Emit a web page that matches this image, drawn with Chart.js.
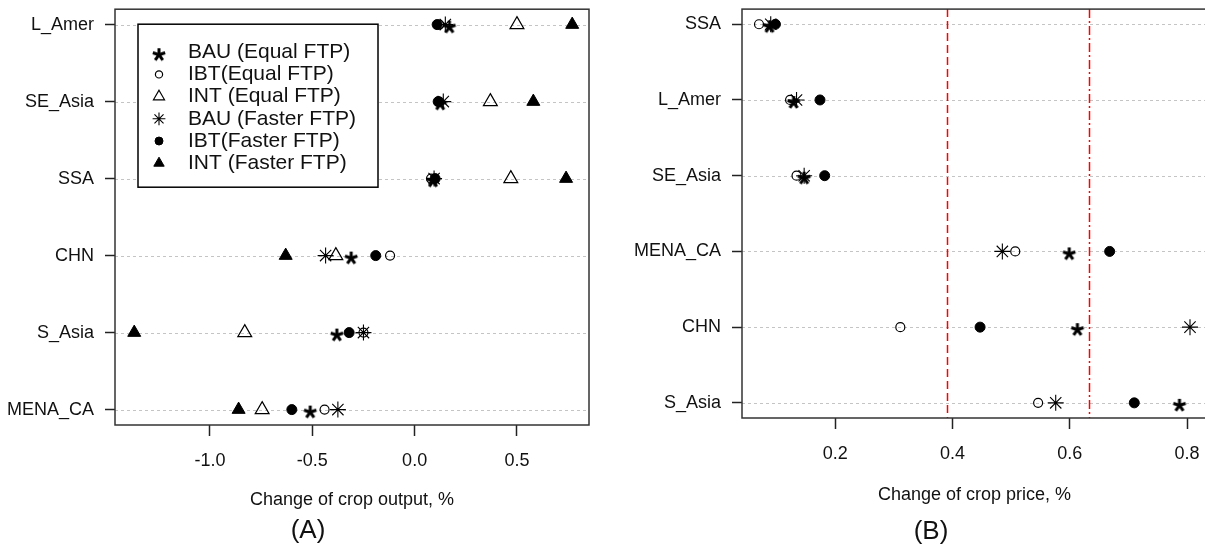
<!DOCTYPE html>
<html>
<head>
<meta charset="utf-8">
<title>Change of crop output and price</title>
<script src="https://cdn.jsdelivr.net/npm/chart.js@4.4.1/dist/chart.umd.min.js"></script>
<style>
  html, body { margin: 0; padding: 0; background: #fff; overflow: hidden; }
  body { width: 1205px; height: 550px; position: relative; font-family: "Liberation Sans", Arial, sans-serif; }
  .panel { position: absolute; top: 0; height: 550px; }
  #panelA { left: 0; width: 600px; }
  #panelB { left: 600px; width: 630px; }
  .tag { position: absolute; font-size: 26px; color: #111; transform: translate(-50%, -50%); line-height: 1; }
</style>
</head>
<body>
<div class="panel" id="panelA"><canvas id="outputChart" width="600" height="550"></canvas></div>
<div class="panel" id="panelB"><canvas id="priceChart" width="630" height="550"></canvas></div>
<div class="tag" style="left:308px; top:529px">(A)</div>
<div class="tag" style="left:931px; top:530px">(B)</div>

<script>
// ---- data: panel A, change of crop output (%) ----
const outputRegions   = ['L_Amer', 'SE_Asia', 'SSA', 'CHN', 'S_Asia', 'MENA_CA'];
const outputBauEqual  = [0.17, 0.125, 0.09, -0.31, -0.38, -0.51];
const outputIbtEqual  = [0.12, 0.12, 0.08, -0.12, -0.25, -0.44];
const outputIntEqual  = [0.50, 0.37, 0.47, -0.385, -0.83, -0.745];
const outputBauFaster = [0.15, 0.14, 0.095, -0.435, -0.25, -0.375];
const outputIbtFaster = [0.11, 0.115, 0.10, -0.19, -0.32, -0.60];
const outputIntFaster = [0.77, 0.58, 0.74, -0.63, -1.37, -0.86];
const outputTicks     = [-1.0, -0.5, 0.0, 0.5];

// ---- data: panel B, change of crop price (%) ----
const priceRegions   = ['SSA', 'L_Amer', 'SE_Asia', 'MENA_CA', 'CHN', 'S_Asia'];
const priceBauEqual  = [0.088, 0.129, 0.147, 0.599, 0.613, 0.787];
const priceIbtEqual  = [0.070, 0.123, 0.134, 0.507, 0.311, 0.546];
const priceBauFaster = [0.090, 0.134, 0.147, 0.485, 0.805, 0.576];
const priceIbtFaster = [0.098, 0.174, 0.182, 0.668, 0.447, 0.710];
const priceTicks     = [0.2, 0.4, 0.6, 0.8];
const priceRefLines  = [0.39, 0.632];

const textColor = '#111';
Chart.defaults.font.family = '"Liberation Sans", Arial, sans-serif';
Chart.defaults.color = textColor;


// bold five-armed "*" like the text glyph R uses for pch = "*"
function makeBoldStar() {
    const c = document.createElement('canvas');
    c.width = 18;
    c.height = 22;
    const g = c.getContext('2d');
    g.strokeStyle = '#000';
    g.lineWidth = 3;
    const cx = 9, cy = 13.5, r = 6.5;
    for (let k = 0; k < 5; k++) {
        const a = -Math.PI / 2 + k * 2 * Math.PI / 5;
        g.beginPath();
        g.moveTo(cx, cy);
        g.lineTo(cx + r * Math.cos(a), cy + r * Math.sin(a));
        g.stroke();
    }
    return c;
}

const boldStar = makeBoldStar();

const markerStyles = {
    bauEqual:  { label: 'BAU (Equal FTP)',  pointStyle: boldStar,   radius: 8,   fill: '#000',          width: 0 },
    ibtEqual:  { label: 'IBT(Equal FTP)',   pointStyle: 'circle',   radius: 4.5, fill: 'rgba(0,0,0,0)', width: 1.2 },
    intEqual:  { label: 'INT (Equal FTP)',  pointStyle: 'triangle', radius: 8,   fill: 'rgba(0,0,0,0)', width: 1.2 },
    bauFaster: { label: 'BAU (Faster FTP)', pointStyle: 'star',     radius: 8,   fill: 'rgba(0,0,0,0)', width: 1.1 },
    ibtFaster: { label: 'IBT(Faster FTP)',  pointStyle: 'circle',   radius: 5,   fill: '#000',          width: 1 },
    intFaster: { label: 'INT (Faster FTP)', pointStyle: 'triangle', radius: 7.5, fill: '#000',          width: 1 }
};


function makeDataset(key, values, idx) {
    const s = markerStyles[key];
    return {
        label: s.label,
        data: values.map((v, i) => ({ x: v, y: i + 1 })),
        pointStyle: s.pointStyle,
        pointRadius: s.radius,
        pointHoverRadius: s.radius,
        backgroundColor: s.fill,
        borderColor: '#000',
        borderWidth: s.width,
        showLine: false,
        order: -idx
    };
}


// dotted row lines, red reference lines and the closed box
const framePlugin = {
    id: 'frame',
    beforeDatasetsDraw(chart) {
        const { ctx, chartArea: a, scales: { x, y } } = chart;
        ctx.save();
        ctx.strokeStyle = '#c4c4c4';
        ctx.lineWidth = 1;
        ctx.setLineDash([3, 3]);
        y.ticks.forEach(t => {
            const py = Math.round(y.getPixelForValue(t.value)) + 0.5;
            ctx.beginPath();
            ctx.moveTo(a.left, py);
            ctx.lineTo(a.right, py);
            ctx.stroke();
        });

        const refs = (chart.options.plugins.frame || {}).refLines || [];
        ctx.strokeStyle = '#ff0000';
        ctx.lineWidth = 1.5;
        refs.forEach((v, i) => {
            const px = Math.round(x.getPixelForValue(v)) + 0.5;
            ctx.setLineDash(i === 0 ? [8, 4] : [9, 3, 2, 3]);
            ctx.beginPath();
            ctx.moveTo(px, a.top);
            ctx.lineTo(px, a.bottom);
            ctx.stroke();
        });
        ctx.restore();
    },
    afterDraw(chart) {
        const { ctx, chartArea: a } = chart;
        ctx.save();
        ctx.strokeStyle = '#333';
        ctx.lineWidth = 1.5;
        ctx.strokeRect(a.left, a.top, a.right - a.left, a.bottom - a.top);
        ctx.restore();
    }
};


// R style boxed legend drawn inside the plot of panel A
const boxLegendPlugin = {
    id: 'boxLegend',
    afterDraw(chart) {
        const opts = chart.options.plugins.boxLegend;
        if (!opts || !opts.show) return;
        const { ctx, chartArea: a } = chart;
        const left = a.left + opts.left, top = a.top + opts.top;
        ctx.save();
        ctx.fillStyle = '#fff';
        ctx.fillRect(left, top, opts.width, opts.height);
        ctx.strokeStyle = '#000';
        ctx.lineWidth = 1.5;
        ctx.setLineDash([]);
        ctx.strokeRect(left, top, opts.width, opts.height);

        chart.data.datasets.forEach((ds, i) => {
            const cy = top + opts.firstRow + i * opts.rowGap;
            ctx.fillStyle = ds.backgroundColor;
            ctx.strokeStyle = '#000';
            ctx.lineWidth = ds.borderWidth;
            Chart.helpers.drawPoint(ctx, {
                pointStyle: ds.pointStyle,
                radius: ds.pointRadius * 0.8,
                rotation: 0,
                borderWidth: ds.borderWidth
            }, left + opts.symbolX, cy);
            ctx.fillStyle = textColor;
            ctx.font = opts.fontSize + 'px "Liberation Sans", Arial, sans-serif';
            ctx.textBaseline = 'middle';
            ctx.textAlign = 'left';
            ctx.fillText(ds.label, left + opts.textX, cy);
        });
        ctx.restore();
    }
};


function buildPanel(canvasId, cfg) {
    const ctx = document.getElementById(canvasId).getContext('2d');
    return new Chart(ctx, {
        type: 'scatter',
        data: { datasets: cfg.datasets },
        options: {
            responsive: false,
            animation: false,
            events: [],
            layout: { padding: { top: 6, right: cfg.padRight, bottom: 0, left: 0 } },
            plugins: {
                legend: { display: false },
                tooltip: { enabled: false },
                frame: { refLines: cfg.refLines || [] },
                boxLegend: cfg.legend || { show: false }
            },
            scales: {
                x: {
                    type: 'linear',
                    min: cfg.xMin,
                    max: cfg.xMax,
                    afterBuildTicks: s => { s.ticks = cfg.xTicks.map(v => ({ value: v })); },
                    afterFit: s => { s.height = cfg.xHeight; s.paddingLeft = 0; s.paddingRight = 0; },
                    ticks: {
                        callback: v => Number(v).toFixed(1),
                        padding: 14,
                        color: textColor,
                        font: { size: 18 },
                        maxRotation: 0
                    },
                    grid: { drawOnChartArea: false, tickLength: 11, tickColor: '#222', tickWidth: 1.5 },
                    border: { display: false },
                    title: {
                        display: true,
                        text: cfg.xTitle,
                        color: textColor,
                        font: { size: 18 },
                        padding: { top: 0, bottom: cfg.titleBottom }
                    }
                },
                y: {
                    type: 'linear',
                    reverse: true,
                    min: 0.8,
                    max: cfg.categories.length + 0.2,
                    afterBuildTicks: s => { s.ticks = cfg.categories.map((_, i) => ({ value: i + 1 })); },
                    afterFit: s => { s.width = cfg.yWidth; s.paddingTop = 0; s.paddingBottom = 0; },
                    ticks: {
                        callback: v => cfg.categories[Math.round(v) - 1],
                        padding: 11,
                        color: textColor,
                        font: { size: 18 },
                        autoSkip: false
                    },
                    grid: { drawOnChartArea: false, tickLength: 10, tickColor: '#222', tickWidth: 1.5 },
                    border: { display: false }
                }
            }
        },
        plugins: [framePlugin, boxLegendPlugin]
    });
}


buildPanel('outputChart', {
    categories: outputRegions,
    datasets: [
        makeDataset('bauEqual', outputBauEqual, 0),
        makeDataset('ibtEqual', outputIbtEqual, 1),
        makeDataset('intEqual', outputIntEqual, 2),
        makeDataset('bauFaster', outputBauFaster, 3),
        makeDataset('ibtFaster', outputIbtFaster, 4),
        makeDataset('intFaster', outputIntFaster, 5)
    ],
    xMin: -1.464,
    xMax: 0.852,
    xTicks: outputTicks,
    xTitle: 'Change of crop output, %',
    xHeight: 125,
    titleBottom: 39,
    yWidth: 115,
    padRight: 11,
    legend: {
        show: true, left: 23, top: 15, width: 240, height: 163,
        firstRow: 28, rowGap: 22.2, symbolX: 21, textX: 50, fontSize: 21
    }
});

buildPanel('priceChart', {
    categories: priceRegions,
    datasets: [
        makeDataset('bauEqual', priceBauEqual, 0),
        makeDataset('ibtEqual', priceIbtEqual, 1),
        makeDataset('bauFaster', priceBauFaster, 3),
        makeDataset('ibtFaster', priceIbtFaster, 4)
    ],
    xMin: 0.041,
    xMax: 0.834,
    xTicks: priceTicks,
    xTitle: 'Change of crop price, %',
    xHeight: 132,
    titleBottom: 44,
    yWidth: 142,
    padRight: 23,
    refLines: priceRefLines
});
</script>
</body>
</html>
